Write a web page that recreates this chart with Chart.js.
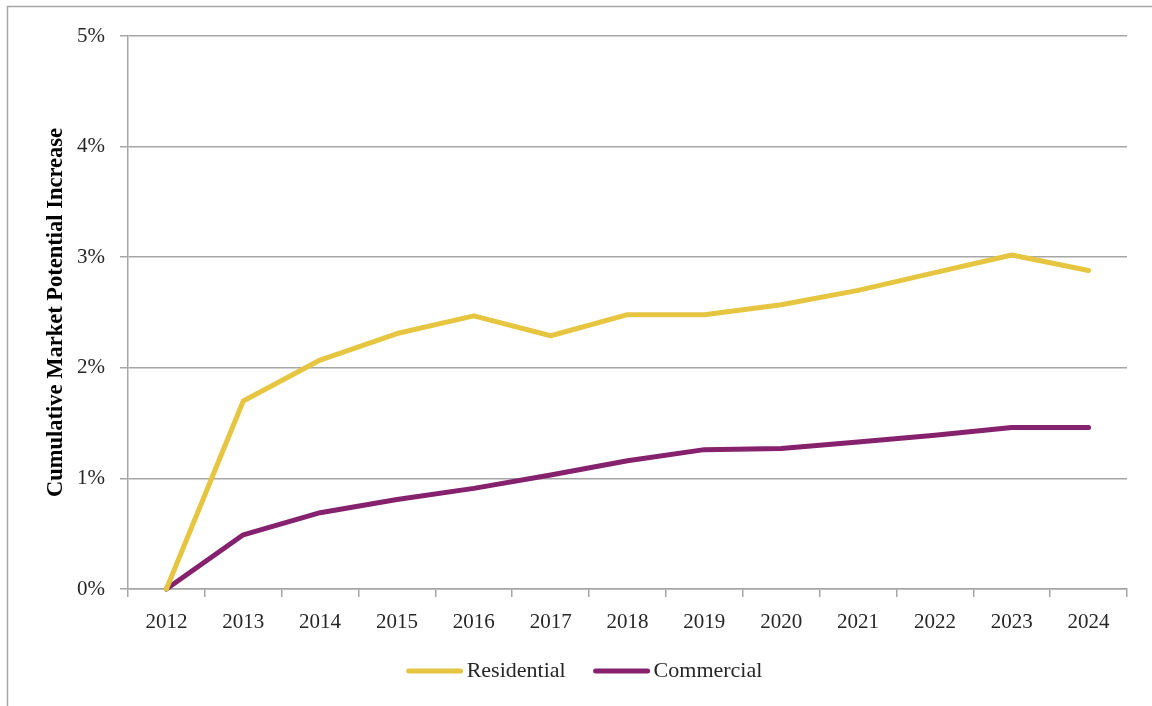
<!DOCTYPE html>
<html>
<head>
<meta charset="utf-8">
<script src="https://cdn.jsdelivr.net/npm/chart.js@4.4.1/dist/chart.umd.min.js"></script>
<style>
  html, body { margin: 0; padding: 0; background: #fff; }
  #wrap { width: 1152px; height: 706px; position: relative; }
</style>
</head>
<body>
<div id="wrap"><canvas id="c" width="1152" height="706"></canvas></div>
<script>
const years = ['2012','2013','2014','2015','2016','2017','2018','2019','2020','2021','2022','2023','2024'];
const residential = [0, 1.70, 2.07, 2.31, 2.47, 2.29, 2.48, 2.48, 2.57, 2.70, 2.86, 3.02, 2.88];
const commercial  = [0, 0.49, 0.69, 0.81, 0.91, 1.03, 1.16, 1.26, 1.27, 1.33, 1.39, 1.46, 1.46];
const yTicks = [0, 1, 2, 3, 4, 5];
const yTitle = 'Cumulative Market Potential Increase';

const GRID = '#a6a6a6';
const FONT = "'Liberation Serif', 'Times New Roman', serif";

const framePlugin = {
  id: 'frame',
  beforeDraw(chart) {
    const ctx = chart.ctx;
    ctx.save();
    ctx.strokeStyle = GRID;
    ctx.lineWidth = 1.5;
    ctx.strokeRect(7.5, 6.5, 2000, 2000);
    ctx.restore();
  }
};

const legendPlugin = {
  id: 'customLegend',
  afterDraw(chart) {
    const ctx = chart.ctx;
    ctx.save();
    ctx.font = "22px " + FONT;
    const lineW = 56, gap = 4, spacing = 28;
    const items = chart.data.datasets.map(d => ({ label: d.label, color: d.borderColor, w: lineW + gap + ctx.measureText(d.label).width }));
    const total = items.reduce((s, it) => s + it.w, 0) + spacing * (items.length - 1);
    let x = 584.5 - total / 2;
    const y = 671;
    items.forEach(it => {
      ctx.strokeStyle = it.color;
      ctx.lineWidth = 5;
      ctx.lineCap = 'round';
      ctx.beginPath();
      ctx.moveTo(x + 2, y);
      ctx.lineTo(x + lineW - 2, y);
      ctx.stroke();
      ctx.fillStyle = '#262626';
      ctx.textBaseline = 'middle';
      ctx.textAlign = 'left';
      ctx.fillText(it.label, x + lineW + gap, y);
      x += it.w + spacing;
    });
    ctx.restore();
  }
};

new Chart(document.getElementById('c'), {
  type: 'line',
  data: {
    labels: years,
    datasets: [
      { label: 'Residential', data: residential, borderColor: '#E6C540', backgroundColor: '#E6C540', borderWidth: 5, pointRadius: 0, tension: 0, borderJoinStyle: 'round', borderCapStyle: 'round', clip: false },
      { label: 'Commercial', data: commercial, borderColor: '#86216E', backgroundColor: '#86216E', borderWidth: 5, pointRadius: 0, tension: 0, borderJoinStyle: 'round', borderCapStyle: 'round', clip: false }
    ]
  },
  options: {
    responsive: false,
    animation: false,
    devicePixelRatio: 1,
    layout: { padding: { left: 0, right: 25, top: 36, bottom: 0 } },
    plugins: { legend: { display: false }, tooltip: { enabled: false } },
    scales: {
      x: {
        type: 'category',
        offset: true,
        grid: { offset: true, drawOnChartArea: false, drawTicks: true, tickLength: 8, color: GRID, lineWidth: 1.5 },
        border: { color: GRID, width: 1.5 },
        ticks: { color: '#262626', font: { family: FONT, size: 21 }, padding: 13, maxRotation: 0, autoSkip: false },
        afterFit(scale) { scale.height = 117; }
      },
      y: {
        min: 0, max: 5,
        afterBuildTicks(scale) { scale.ticks = yTicks.map(v => ({ value: v })); },
        grid: { color: GRID, lineWidth: 1.5, tickLength: 8 },
        border: { color: GRID, width: 1.5 },
        ticks: { color: '#262626', font: { family: FONT, size: 21 }, padding: 15, callback: v => v + '%' },
        title: { display: true, text: yTitle, color: '#000', font: { family: FONT, size: 22.5, weight: 'bold' }, padding: { top: 43, bottom: 0 } },
        afterFit(scale) { scale.width = 128; }
      }
    }
  },
  plugins: [framePlugin, legendPlugin]
});
</script>
</body>
</html>
